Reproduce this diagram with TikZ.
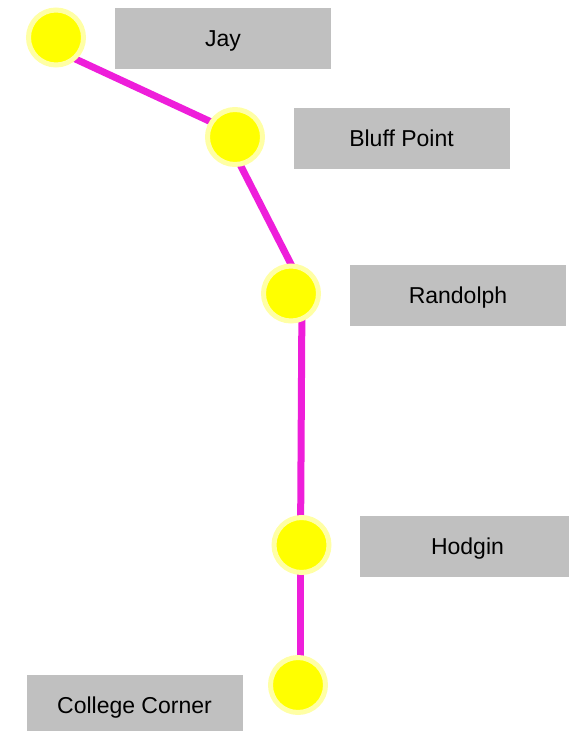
\documentclass[tikz,border=0pt]{standalone}
\usepackage{fontspec}
\setmainfont{Liberation Sans}
\usetikzlibrary{backgrounds}
\definecolor{stopyellow}{RGB}{255,255,0}
\definecolor{halo}{RGB}{255,255,165}
\definecolor{boxgray}{RGB}{192,192,192}
\definecolor{linkmag}{RGB}{238,30,218}
\begin{document}
\begin{tikzpicture}[x=1pt,y=-1pt,
  stopnode/.style={circle, minimum size=55pt, inner sep=0pt, fill=stopyellow, draw=halo, line width=5pt},
  lbl/.style={fill=boxgray, minimum width=216pt, minimum height=61pt, inner sep=0pt, text=black, text height=16.5pt, text depth=0pt, font=\fontsize{23}{27}\selectfont},
  link/.style={draw=linkmag, line width=7pt}]
\useasboundingbox (0,0) rectangle (569,731);
\clip (0,0) rectangle (569,731);
\node[stopnode] (jay) at (56,37.5) {};
\node[stopnode] (bluff) at (235,137) {};
\node[stopnode] (rand) at (291,293.5) {};
\node[stopnode] (hodgin) at (301.5,545) {};
\node[stopnode] (cc) at (298,685) {};
\node[lbl] (ljay) at (223,38.5) {Jay};
\node[lbl] (lbluff) at (401.5,138) {Bluff Point};
\node[lbl] (lrand) at (458,295) {Randolph};
\node[lbl] (lhodgin) at (467.5,546) {Hodgin};
\node[lbl] (lcc) at (134.5,705.5) {College Corner};
\begin{scope}[on background layer]
\draw[link] ([shift={(0,12.5)}]jay.center) -- ([shift={(0,-4)}]bluff.center);
\draw[link] ([shift={(-9,0)}]bluff.center) -- ([shift={(15,0)}]rand.center);
\draw[link] ([shift={(11,0)}]rand.center) -- ([shift={(-1,0)}]hodgin.center);
\draw[link] ([shift={(-1.5,0)}]hodgin.center) -- ([shift={(2,0)}]cc.center);
\end{scope}
\end{tikzpicture}
\end{document}
